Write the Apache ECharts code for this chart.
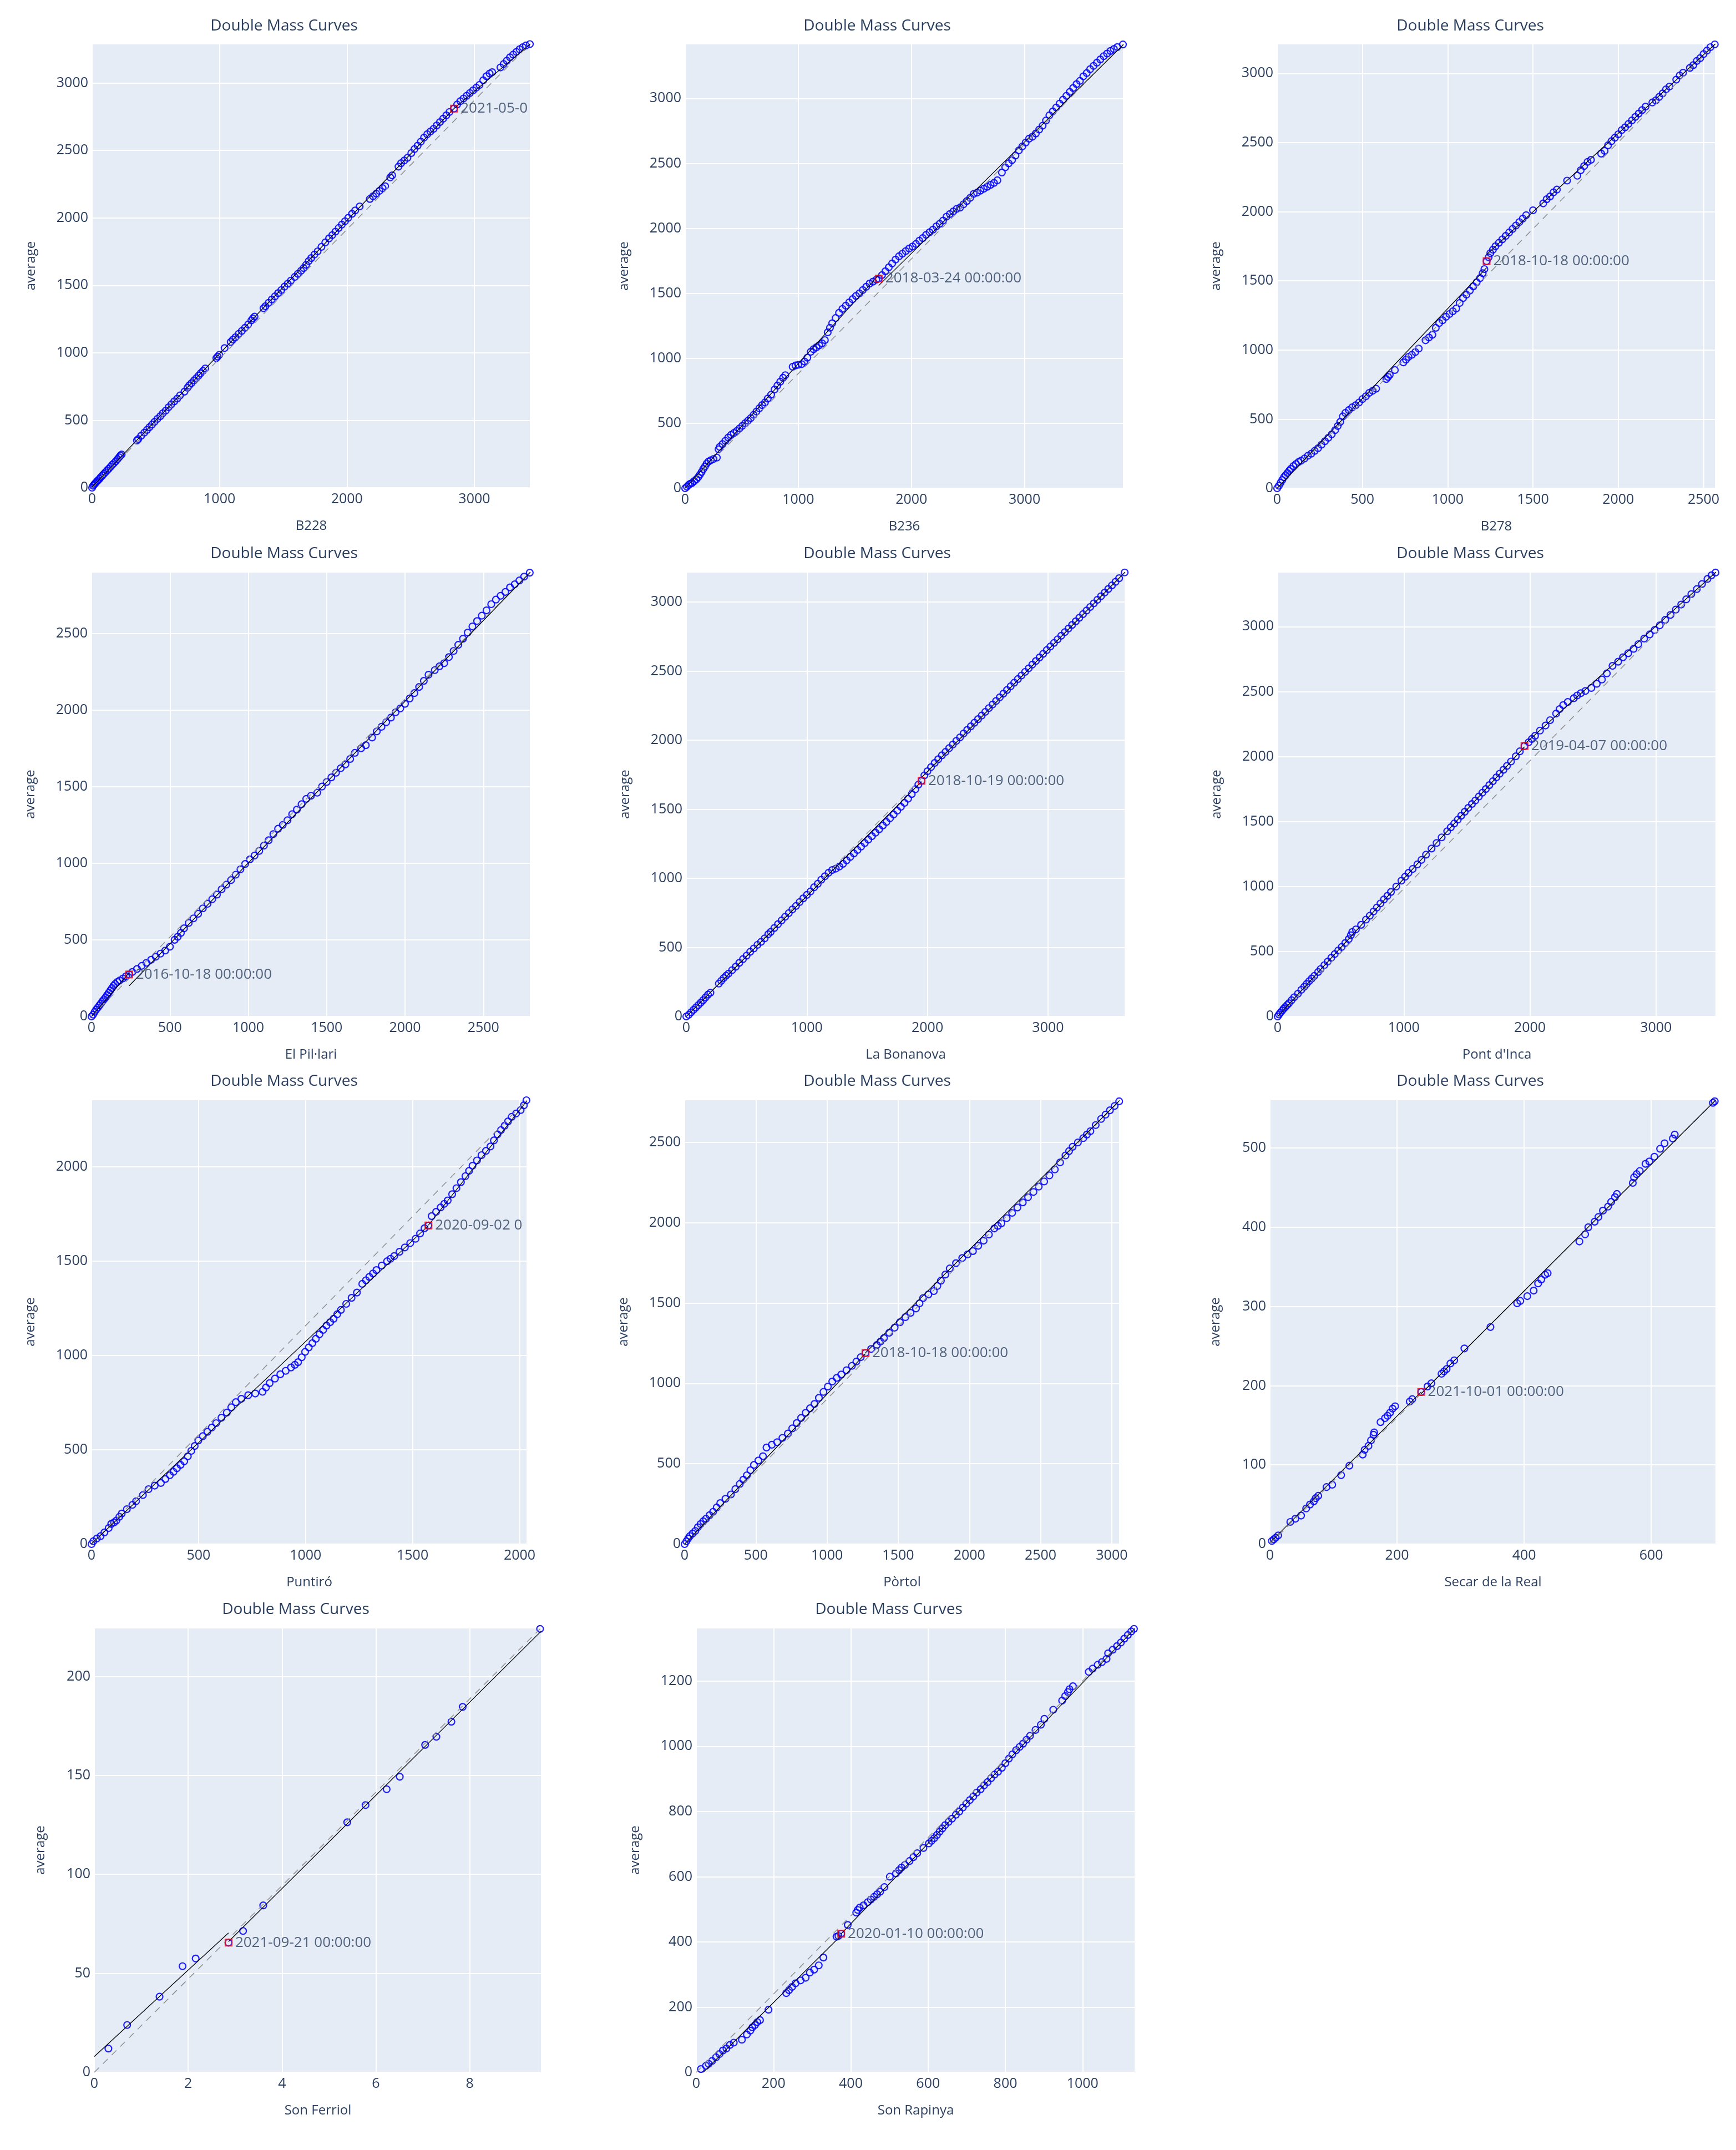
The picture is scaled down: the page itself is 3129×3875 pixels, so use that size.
<!DOCTYPE html>
<html>
<head>
<meta charset="utf-8">
<script src="https://cdn.jsdelivr.net/npm/echarts@6/dist/echarts.min.js"></script>
<style>
  html, body { margin: 0; padding: 0; background: #fff; }
  #chart { width: 3129px; height: 3875px; }
</style>
</head>
<body>
<div id="chart"></div>
<script>
// station names (x axis titles)
const stations = ["B228", "B236", "B278", "El Pil·lari", "La Bonanova", "Pont d'Inca",
  "Puntiró", "Pòrtol", "Secar de la Real", "Son Ferriol", "Son Rapinya"];

// cumulative station value vs cumulative average
const b228Pts = [[0,0],[8,14],[15,22],[22,30],[30,38],[40,48],[48,56],[58,66],[68,78],[80,90],[92,102],[105,115],[118,128],[130,140],[145,155],[158,170],[172,182],[186,196],[200,212],[212,226],[222,238],[232,246],
  [352,350],[362,360],[385,385],[410,408],[430,428],[450,448],[470,468],[490,488],[512,510],[535,530],[555,552],[578,572],[600,596],[622,618],[645,640],[668,660],[690,684],[725,712],[748,740],[762,758],[780,775],[800,795],[818,812],[835,830],[852,848],[870,866],[888,884],
  [975,960],[985,972],[998,985],[1040,1035],[1088,1080],[1105,1098],[1125,1115],[1150,1140],[1175,1162],[1200,1185],[1225,1210],[1250,1240],[1262,1255],[1275,1268],[1345,1330],[1360,1345],[1385,1370],[1410,1395],[1435,1418],[1460,1442],[1485,1465],[1510,1490],[1535,1512],[1560,1535],[1590,1562],[1615,1585],[1640,1608],[1660,1628],[1680,1652],[1700,1680],[1720,1702],[1745,1728],[1770,1752],[1800,1785],[1830,1818],[1860,1848],[1885,1872],[1910,1898],[1935,1925],[1960,1950],[1985,1975],[2010,2000],[2040,2030],[2065,2055],[2100,2085],
  [2180,2140],[2205,2160],[2230,2180],[2255,2200],[2280,2220],[2300,2235],[2340,2300],[2355,2315],[2405,2380],[2425,2405],[2450,2425],[2475,2445],[2505,2480],[2530,2510],[2555,2535],[2580,2565],[2605,2595],[2630,2620],[2655,2640],[2680,2660],[2705,2685],[2730,2710],[2755,2735],[2780,2760],[2805,2785],[2840,2810],[2865,2840],[2890,2865],[2915,2885],[2940,2905],[2965,2925],[2990,2945],[3015,2965],[3040,2985],[3070,3020],[3095,3050],[3120,3070],[3140,3080],[3205,3115],[3230,3140],[3255,3165],[3280,3190],[3305,3210],[3330,3230],[3355,3250],[3380,3265],[3405,3278],[3436,3288]];

const b236Pts = [[0,0],[15,12],[30,25],[45,35],[60,40],[80,55],[100,70],[115,85],[130,105],[145,125],[160,148],[175,168],[190,190],[205,205],[225,215],[250,225],[280,236],[295,300],[305,318],[330,340],[355,365],[380,390],[405,410],[430,425],[455,440],[480,460],[505,480],[530,500],[555,520],[580,540],[605,565],[630,590],[655,615],[680,640],[705,660],[730,690],[760,720],[790,760],[815,790],[840,820],[865,850],[885,870],
  [950,935],[975,945],[1000,950],[1030,955],[1055,975],[1080,1005],[1110,1050],[1135,1070],[1160,1085],[1185,1100],[1210,1115],[1235,1140],[1260,1200],[1280,1235],[1300,1270],[1330,1310],[1360,1350],[1390,1380],[1420,1405],[1450,1430],[1480,1455],[1510,1480],[1540,1500],[1570,1525],[1600,1550],[1630,1575],[1660,1590],[1690,1605],[1711,1614],
  [1740,1640],[1770,1670],[1800,1700],[1830,1730],[1860,1760],[1890,1785],[1920,1805],[1950,1825],[1980,1845],[2010,1860],[2040,1880],[2070,1905],[2100,1925],[2130,1950],[2160,1970],[2190,1990],[2220,2015],[2250,2035],[2280,2060],[2310,2090],[2340,2110],[2370,2130],[2400,2150],[2430,2160],[2460,2185],[2490,2210],[2520,2235],[2550,2265],[2580,2275],[2610,2290],[2640,2305],[2670,2320],[2700,2335],[2730,2350],[2760,2370],[2800,2430],[2830,2470],[2860,2500],[2890,2525],[2920,2560],[2950,2600],[2980,2630],[3010,2660],[3040,2690],[3070,2705],[3100,2730],[3130,2760],[3160,2790],[3190,2830],[3220,2870],[3250,2900],[3280,2930],[3310,2960],[3340,2990],[3370,3020],[3400,3050],[3430,3080],[3460,3110],[3490,3135],[3520,3170],[3550,3195],[3580,3225],[3610,3250],[3640,3275],[3670,3300],[3700,3325],[3730,3345],[3760,3365],[3790,3380],[3820,3395],[3870,3415]];

const b278Pts = [[0,0],[10,18],[20,40],[30,60],[40,80],[50,95],[60,110],[70,125],[80,140],[95,160],[110,175],[125,190],[140,200],[160,215],[180,235],[200,250],[220,270],[240,290],[260,315],[280,340],[300,365],[320,390],[340,420],[355,450],[370,480],[385,520],[400,545],[420,565],[440,585],[460,600],[480,620],[500,645],[520,665],[540,690],[560,705],[580,720],[640,790],[650,805],[660,820],[690,855],[740,910],[755,930],[770,950],[790,965],[810,985],[830,1010],[870,1070],[890,1090],[910,1110],[930,1160],[950,1195],[970,1215],[990,1240],[1010,1260],[1030,1280],[1050,1300],[1070,1340],[1090,1375],[1110,1400],[1130,1430],[1150,1460],[1170,1490],[1190,1520],[1205,1555],[1215,1585],[1228,1642],
  [1240,1670],[1250,1700],[1265,1725],[1280,1750],[1300,1775],[1320,1800],[1340,1825],[1360,1850],[1380,1875],[1400,1900],[1420,1925],[1440,1950],[1460,1975],[1500,2010],[1560,2060],[1580,2090],[1600,2110],[1620,2140],[1640,2160],[1700,2225],[1760,2260],[1780,2300],[1800,2330],[1820,2360],[1840,2375],[1900,2420],[1920,2440],[1940,2480],[1960,2510],[1980,2535],[2000,2560],[2020,2590],[2040,2610],[2060,2635],[2080,2660],[2100,2685],[2120,2710],[2140,2735],[2160,2760],[2200,2790],[2220,2805],[2240,2830],[2260,2855],[2280,2885],[2300,2905],[2340,2955],[2360,2985],[2380,3005],[2420,3040],[2440,3060],[2460,3090],[2480,3110],[2500,3140],[2520,3165],[2540,3190],[2566,3210]];

const pilPts = [[0,0],[10,12],[20,30],[30,45],[40,58],[50,72],[60,85],[70,100],[80,112],[90,125],[100,140],[110,155],[120,170],[130,185],[140,200],[150,212],[165,225],[180,235],[200,248],[220,262],[240,274],
  [260,290],[290,310],[320,330],[350,350],[380,370],[410,390],[440,410],[470,430],[500,455],[530,500],[550,520],[570,545],[590,575],[620,610],[650,640],[680,670],[710,705],[740,735],[770,765],[800,795],[830,830],[860,860],[890,890],[920,925],[950,960],[980,995],[1010,1025],[1040,1050],[1070,1080],[1100,1115],[1130,1150],[1160,1190],[1190,1225],[1220,1250],[1250,1280],[1280,1320],[1310,1350],[1340,1385],[1370,1420],[1400,1440],[1440,1460],[1470,1500],[1500,1530],[1530,1560],[1560,1590],[1590,1620],[1620,1645],[1650,1680],[1680,1720],[1720,1750],[1750,1770],[1790,1820],[1820,1860],[1850,1890],[1880,1920],[1910,1950],[1940,1985],[1970,2010],[2000,2040],[2030,2075],[2060,2110],[2090,2150],[2120,2190],[2150,2230],[2190,2260],[2220,2285],[2250,2305],[2280,2345],[2310,2385],[2340,2425],[2370,2465],[2400,2505],[2430,2545],[2460,2580],[2490,2615],[2520,2650],[2550,2690],[2580,2720],[2610,2745],[2640,2770],[2670,2800],[2700,2820],[2730,2845],[2760,2870],[2796,2896]];

const bonanovaPts = [[0,0],[20,12],[40,30],[60,48],[80,65],[100,82],[120,100],[140,118],[160,138],[180,158],[200,172],[270,238],[290,258],[310,278],[330,295],[350,310],[380,335],[410,360],[440,388],[470,415],[500,440],[530,468],[560,492],[590,518],[620,540],[650,565],[680,595],[700,612],[730,640],[760,668],[790,695],[820,722],[850,748],[880,775],[910,800],[940,828],[970,855],[1000,880],[1030,905],[1060,935],[1090,960],[1120,990],[1150,1015],[1180,1040],[1210,1060],[1240,1070],[1270,1085],[1300,1105],[1330,1130],[1360,1155],[1390,1180],[1420,1205],[1450,1230],[1480,1255],[1510,1280],[1540,1305],[1570,1330],[1600,1355],[1630,1382],[1660,1408],[1690,1435],[1720,1462],[1750,1490],[1780,1518],[1810,1546],[1840,1576],[1870,1610],[1900,1645],[1925,1678],[1951,1706],
  [1975,1745],[2000,1775],[2030,1805],[2060,1835],[2090,1862],[2120,1890],[2150,1915],[2180,1942],[2210,1968],[2240,1995],[2270,2020],[2300,2048],[2330,2074],[2360,2100],[2390,2126],[2420,2152],[2450,2178],[2480,2205],[2510,2232],[2540,2258],[2570,2284],[2600,2310],[2630,2337],[2660,2363],[2690,2390],[2720,2416],[2750,2442],[2780,2468],[2810,2494],[2840,2520],[2870,2547],[2900,2573],[2930,2599],[2960,2625],[2990,2652],[3020,2678],[3050,2704],[3080,2730],[3110,2756],[3140,2782],[3170,2808],[3200,2834],[3230,2860],[3260,2886],[3290,2912],[3320,2938],[3350,2964],[3380,2990],[3410,3016],[3440,3042],[3470,3068],[3500,3094],[3530,3120],[3560,3146],[3590,3172],[3636,3214]];

const incaPts = [[0,0],[10,15],[20,28],[35,45],[47,60],[60,72],[75,88],[89,102],[110,125],[131,148],[160,175],[187,205],[210,228],[229,250],[250,272],[270,292],[290,312],[320,342],[340,365],[370,395],[396,422],[425,452],[452,480],[480,508],[507,535],[535,565],[563,595],[580,625],[591,650],[620,670],[661,705],[700,745],[730,775],[760,808],[786,838],[815,870],[842,900],[870,928],[898,958],[940,1000],[981,1045],[1010,1075],[1037,1105],[1070,1135],[1107,1170],[1140,1205],[1176,1245],[1220,1292],[1260,1335],[1300,1378],[1344,1425],[1372,1455],[1400,1485],[1428,1515],[1455,1545],[1483,1575],[1511,1605],[1540,1635],[1567,1662],[1595,1692],[1623,1722],[1650,1750],[1678,1780],[1706,1810],[1734,1840],[1760,1868],[1790,1898],[1818,1928],[1850,1962],[1888,2002],[1920,2040],[1957,2081],
  [1990,2110],[2015,2135],[2041,2160],[2080,2200],[2124,2239],[2160,2280],[2208,2331],[2235,2365],[2264,2396],[2300,2420],[2348,2449],[2375,2470],[2404,2488],[2440,2505],[2487,2528],[2530,2560],[2571,2593],[2610,2640],[2655,2698],[2700,2730],[2738,2764],[2780,2795],[2822,2829],[2860,2865],[2906,2908],[2950,2940],[2989,2974],[3030,3010],[3073,3052],[3115,3090],[3157,3131],[3200,3170],[3240,3210],[3280,3250],[3324,3289],[3365,3328],[3408,3367],[3440,3395],[3472,3416]];

const puntiroPts = [[0,0],[8,15],[25,30],[42,42],[60,62],[80,85],[92,107],[105,115],[116,125],[130,145],[141,162],[165,185],[191,208],[208,227],[240,260],[266,291],[295,310],[324,324],[345,345],[366,365],[383,383],[399,402],[416,420],[433,439],[450,465],[466,494],[482,520],[499,549],[520,572],[541,595],[562,618],[582,641],[607,670],[632,697],[653,725],[674,752],[700,770],[732,789],[765,798],[799,807],[815,830],[832,853],[857,877],[882,900],[907,918],[932,936],[950,950],[965,964],[982,990],[998,1019],[1015,1042],[1032,1065],[1048,1088],[1065,1112],[1082,1135],[1098,1158],[1115,1176],[1131,1194],[1148,1218],[1165,1241],[1190,1273],[1215,1305],[1240,1333],[1265,1379],[1282,1398],[1298,1416],[1315,1434],[1331,1452],[1356,1476],[1381,1499],[1397,1512],[1414,1526],[1439,1549],[1464,1572],[1489,1595],[1514,1618],[1535,1646],[1556,1674],[1574,1688],
  [1589,1738],[1610,1761],[1631,1784],[1648,1803],[1664,1821],[1685,1854],[1705,1886],[1726,1918],[1747,1950],[1764,1978],[1780,2005],[1801,2033],[1822,2061],[1843,2084],[1864,2107],[1880,2139],[1897,2171],[1913,2194],[1930,2217],[1946,2240],[1963,2264],[1984,2282],[2005,2300],[2020,2325],[2032,2352]];

const portolPts = [[0,0],[12,17],[25,35],[37,50],[56,66],[75,82],[93,105],[112,125],[131,142],[150,158],[175,180],[200,201],[225,228],[250,255],[287,282],[325,309],[356,342],[387,374],[412,401],[437,428],[462,460],[487,493],[518,520],[550,547],[575,601],[612,618],[650,634],[687,661],[725,688],[756,720],[787,753],[818,785],[850,817],[881,845],[912,872],[943,910],[975,947],[1006,980],[1037,1012],[1068,1034],[1100,1055],[1137,1082],[1175,1109],[1206,1136],[1237,1163],[1270,1189],
  [1310,1214],[1350,1239],[1375,1260],[1400,1282],[1437,1315],[1475,1347],[1512,1380],[1550,1412],[1587,1439],[1625,1466],[1650,1498],[1675,1531],[1712,1553],[1750,1574],[1775,1606],[1800,1639],[1831,1677],[1862,1715],[1906,1748],[1950,1780],[1987,1802],[2025,1823],[2062,1856],[2100,1888],[2137,1926],[2175,1964],[2200,1980],[2225,1996],[2262,2028],[2300,2061],[2337,2094],[2375,2126],[2412,2158],[2450,2191],[2487,2224],[2525,2256],[2562,2294],[2600,2331],[2637,2375],[2675,2418],[2700,2445],[2725,2472],[2762,2499],[2800,2526],[2825,2548],[2850,2569],[2887,2607],[2925,2645],[2956,2672],[2987,2699],[3020,2726],[3052,2755]];

const secarPts = [[3,4],[6,6],[9,8],[13,11],[32,28],[40,32],[49,36],[57,45],[63,50],[69,54],[72,58],[76,61],[89,72],[98,75],[112,87],[125,99],[146,113],[149,119],[155,124],[159,131],[163,138],[164,141],[174,154],[181,159],[185,162],[189,166],[193,171],[197,174],[220,180],[224,183],[238,192],
  [248,199],[254,203],[270,215],[274,218],[278,221],[284,228],[290,232],[306,247],[347,274],[389,304],[394,307],[405,313],[415,320],[422,329],[427,334],[433,340],[437,342],[487,382],[496,391],[501,400],[511,407],[517,413],[524,421],[532,426],[537,432],[543,438],[546,442],[571,456],[573,463],[577,467],[582,471],[591,480],[597,483],[605,489],[614,499],[621,506],[634,512],[637,517],[697,557],[700,559]];

const ferriolPts = [[0.30,12.0],[0.70,23.9],[1.39,38.2],[1.88,53.6],[2.16,57.5],[2.86,65.5],[3.17,71.4],[3.60,84.3],[5.39,126.3],[5.78,135.0],[6.23,143.0],[6.51,149.3],[7.05,165.4],[7.29,169.5],[7.61,177.1],[7.85,184.6],[9.50,224.0]];

const rapinyaPts = [[12,10],[25,20],[32,26],[41,35],[51,46],[60,56],[69,67],[78,73],[87,84],[97,91],[118,100],[131,116],[140,128],[145,138],[152,145],[158,154],[165,160],[187,192],[233,243],[240,252],[248,262],[257,273],[270,282],[283,290],[294,306],[305,315],[317,328],[329,352],[363,416],[368,418],[375,425],
  [392,452],[414,490],[418,498],[423,505],[433,512],[444,522],[452,530],[460,538],[468,546],[476,554],[487,568],[501,600],[517,610],[525,620],[531,628],[540,636],[552,648],[562,660],[572,672],[588,688],[602,702],[609,710],[616,718],[623,728],[630,738],[637,748],[644,758],[653,768],[662,778],[672,790],[681,800],[690,812],[699,824],[708,835],[717,846],[726,858],[736,868],[745,880],[754,890],[763,902],[772,913],[781,922],[791,934],[800,948],[809,962],[818,975],[828,988],[837,998],[846,1008],[855,1020],[864,1032],[878,1050],[892,1066],[901,1084],[924,1112],[947,1140],[955,1154],[962,1166],[966,1175],[975,1184],[1016,1228],[1026,1238],[1039,1250],[1050,1258],[1062,1268],[1066,1285],[1078,1296],[1089,1307],[1099,1318],[1108,1330],[1117,1341],[1126,1352],[1133,1360]];

const points = [b228Pts, b236Pts, b278Pts, pilPts, bonanovaPts, incaPts, puntiroPts, portolPts, secarPts, ferriolPts, rapinyaPts];

// detected break point and its date
const breakPts = [[2840,2810],[1711,1614],[1228,1642],[240,274],[1951,1706],[1957,2081],[1574,1688],[1270,1189],[238,192],[2.86,65.5],[375,425]];
const breakDates = ["2021-05-09 00:00:00", "2018-03-24 00:00:00", "2018-10-18 00:00:00", "2016-10-18 00:00:00",
  "2018-10-19 00:00:00", "2019-04-07 00:00:00", "2020-09-02 00:00:00", "2018-10-18 00:00:00",
  "2021-10-01 00:00:00", "2021-09-21 00:00:00", "2020-01-10 00:00:00"];

// fitted lines before / after the break
const fitBefore = [[[0,5],[2840,2810]], [[0,0],[1711,1640]], [[0,0],[1228,1595]], [[0,0],[240,285]],
  [[0,0],[1951,1700]], [[0,0],[1957,2075]], [[0,2],[1574,1688]], [[0,0],[1270,1185]],
  [[0,2],[238,192]], [[0,8],[2.86,70.4]], [[18,0],[375,420]]];
const fitAfter = [[[2840,2810],[3440,3290]], [[1711,1560],[3875,3415]], [[1228,1690],[2570,3214]], [[240,200],[2800,2900]],
  [[1951,1730],[3640,3217]], [[1957,2095],[3476,3420]], [[1574,1690],[2035,2350]], [[1270,1190],[3055,2760]],
  [[238,190],[702,561]], [[2.86,66],[9.53,223]], [[375,425],[1136,1362]]];

// axis extents and tick steps
const xMaxes = [3440, 3875, 2570, 2800, 3640, 3476, 2035, 3055, 702, 9.53, 1136];
const yMaxes = [3290, 3420, 3214, 2900, 3217, 3420, 2355, 2765, 561, 224.5, 1363];
const xSteps = [1000, 1000, 500, 500, 1000, 1000, 500, 500, 200, 2, 200];
const ySteps = [500, 500, 500, 500, 500, 500, 500, 500, 100, 50, 200];

// plot boxes [left, top, width, height] and title centres
const boxes = [[166,79,790,800],[1235,79,790,801],[2302,79,790,801],
  [165,1031,791,801],[1237,1031,791,801],[2303,1031,790,801],
  [165,1982,785,801],[1234,1982,784,801],[2289,1982,804,801],
  [170,2934,806,801],[1255,2934,791,801]];
const titlePos = [[512,47],[1581,47],[2650,47],[512,998],[1581,998],[2650,998],
  [512,1949],[1581,1949],[2650,1949],[533,2901],[1602,2901]];
const yNameGaps = [98, 98, 98, 98, 98, 98, 98, 98, 86, 85, 98];

const FONT = '"Open Sans", "Noto Sans", sans-serif';
const INK = '#2a3f5f';

var chart = echarts.init(document.getElementById('chart'));

var grid = [], xAxis = [], yAxis = [], series = [], graphic = [];

function plainNumber(v) {
  return String(Math.round(v * 1000) / 1000);
}

stations.forEach(function (name, i) {
  var b = boxes[i];
  grid.push({
    left: b[0], top: b[1], width: b[2], height: b[3],
    show: true, backgroundColor: '#e5ecf6', borderWidth: 0
  });
  xAxis.push({
    gridIndex: i, type: 'value', min: 0, max: xMaxes[i], interval: xSteps[i],
    name: name, nameLocation: 'middle', nameGap: 57,
    nameTextStyle: { fontSize: 24, color: INK, fontFamily: FONT },
    axisLine: { show: false }, axisTick: { show: false },
    axisLabel: { fontSize: 25, color: INK, fontFamily: FONT, margin: 8, showMaxLabel: false, formatter: plainNumber },
    splitLine: { show: true, lineStyle: { color: '#ffffff', width: 2 } }
  });
  yAxis.push({
    gridIndex: i, type: 'value', min: 0, max: yMaxes[i], interval: ySteps[i],
    name: 'average', nameLocation: 'middle', nameGap: yNameGaps[i],
    nameTextStyle: { fontSize: 24, color: INK, fontFamily: FONT },
    axisLine: { show: false }, axisTick: { show: false },
    axisLabel: { fontSize: 25, color: INK, fontFamily: FONT, margin: 7, showMaxLabel: false, formatter: plainNumber },
    splitLine: { show: true, lineStyle: { color: '#ffffff', width: 2 } }
  });

  var pts = points[i];
  var last = pts[pts.length - 1];

  // data points
  series.push({
    type: 'scatter', xAxisIndex: i, yAxisIndex: i,
    data: pts, symbol: 'circle', symbolSize: 12,
    itemStyle: { color: 'rgba(0,0,0,0)', borderColor: '#0000ff', borderWidth: 2.2, opacity: 0.88 },
    emphasis: { disabled: true }, z: 2
  });
  // straight mass line, origin to the last point
  series.push({
    type: 'line', xAxisIndex: i, yAxisIndex: i,
    data: [[0, 0], last], showSymbol: false, symbol: 'none',
    lineStyle: { color: '#8f8f8f', width: 1.5, type: [12, 10] }, z: 3
  });
  // fitted segments
  series.push({
    type: 'line', xAxisIndex: i, yAxisIndex: i,
    data: fitBefore[i], showSymbol: false, symbol: 'none',
    lineStyle: { color: '#000000', width: 1.3 }, z: 4
  });
  series.push({
    type: 'line', xAxisIndex: i, yAxisIndex: i,
    data: fitAfter[i], showSymbol: false, symbol: 'none',
    lineStyle: { color: '#000000', width: 1.3 }, z: 4
  });
  // break marker with date
  series.push({
    id: 'brk' + i,
    type: 'scatter', xAxisIndex: i, yAxisIndex: i,
    data: [breakPts[i]], symbol: 'rect', symbolSize: 12,
    itemStyle: { color: 'rgba(0,0,0,0)', borderColor: '#ff0000', borderWidth: 2 },
    label: {
      show: true, position: 'right', distance: 5, formatter: breakDates[i],
      fontSize: 26, color: INK, fontFamily: FONT
    },
    emphasis: { disabled: true }, z: 5
  });

  graphic.push({
    type: 'text', x: titlePos[i][0], y: titlePos[i][1],
    style: {
      text: 'Double Mass Curves', fontSize: 28, fill: INK, fontFamily: FONT,
      align: 'center', verticalAlign: 'middle'
    }
  });
});

chart.setOption({
  animation: false,
  backgroundColor: '#ffffff',
  grid: grid, xAxis: xAxis, yAxis: yAxis, series: series, graphic: graphic
});

// clip the date labels at the right edge of each plot
var labelUpdates = stations.map(function (name, i) {
  var p = chart.convertToPixel({ gridIndex: i }, breakPts[i]);
  var right = boxes[i][0] + boxes[i][2];
  return {
    id: 'brk' + i,
    label: { width: Math.max(0, right - p[0] - 12), overflow: 'truncate', ellipsis: '' }
  };
});
chart.setOption({ series: labelUpdates });
</script>
</body>
</html>
